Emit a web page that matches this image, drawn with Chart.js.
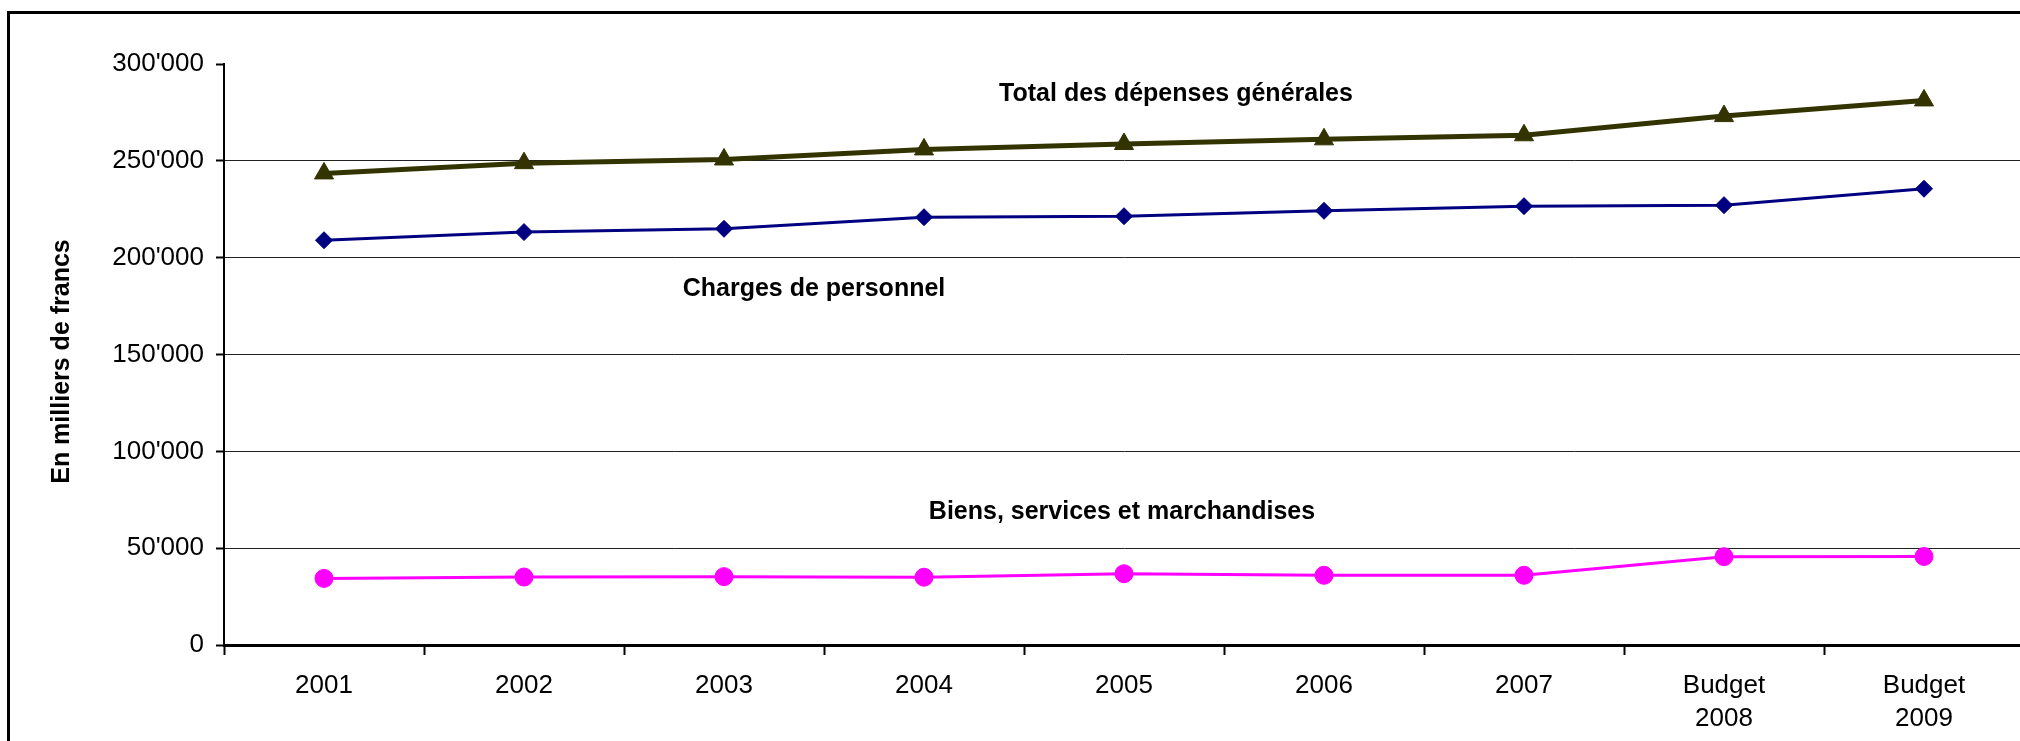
<!DOCTYPE html>
<html><head><meta charset="utf-8">
<script src="https://cdn.jsdelivr.net/npm/chart.js@4.4.1/dist/chart.umd.min.js"></script>
<style>
html,body{margin:0;padding:0;overflow:hidden;background:#fff;width:2020px;height:741px}
#wrap{position:absolute;left:0;top:0;width:2044px;height:741px}
</style></head><body>
<div id="wrap"><canvas id="c" width="2044" height="741"></canvas></div>
<script>
// ---- data ----
const categories = ['2001','2002','2003','2004','2005','2006','2007',['Budget','2008'],['Budget','2009']];
const totalDepenses = [243500, 248800, 250700, 255900, 258700, 261100, 263200, 273100, 281200];
const chargesPersonnel = [209000, 213200, 214900, 220900, 221400, 224200, 226600, 227100, 235600];
const biensServices = [34400, 35100, 35300, 35000, 36800, 36000, 36000, 45600, 45700];
const yTicks = [0, 50000, 100000, 150000, 200000, 250000, 300000];
const seriesNames = ['Total des dépenses générales', 'Charges de personnel', 'Biens, services et marchandises'];
const yTitle = 'En milliers de francs';

// ---- styling / layout ----
const FONT = "'Liberation Sans', Arial, sans-serif";
const notes = [
  {text: seriesNames[0], at: 4.26, value: 280700},
  {text: seriesNames[1], at: 2.45, value: 180400},
  {text: seriesNames[2], at: 3.99, value: 65150}
];
const fmt = v => String(v).replace(/\B(?=(\d{3})+(?!\d))/g, "'");

const framePlugin = {
  id: 'frame',
  beforeDraw(chart){
    const ctx = chart.ctx;
    ctx.save();
    ctx.fillStyle = '#fff';
    ctx.fillRect(0,0,chart.width,chart.height);
    ctx.fillStyle = '#000';
    ctx.fillRect(7, 11, chart.width, 3);
    ctx.fillRect(7, 11, 3, chart.height);
    ctx.restore();
  }
};
const notesPlugin = {
  id: 'notes',
  afterDatasetsDraw(chart){
    const {ctx, chartArea, scales:{x, y}} = chart;
    ctx.save();
    ctx.font = 'bold 25px ' + FONT;
    ctx.fillStyle = '#000';
    ctx.textAlign = 'center';
    ctx.textBaseline = 'alphabetic';
    notes.forEach(n => ctx.fillText(n.text, x.getPixelForValue(n.at), y.getPixelForValue(n.value)));
    // y axis title
    ctx.translate(69, (chartArea.top + chartArea.bottom) / 2 + 7);
    ctx.rotate(-Math.PI / 2);
    ctx.fillText(yTitle, 0, 0);
    ctx.restore();
  }
};

new Chart(document.getElementById('c'), {
  type: 'line',
  data: {
    labels: categories,
    datasets: [
      {label: seriesNames[0], data: totalDepenses, borderColor: '#333300', backgroundColor: '#333300',
       borderWidth: 5, pointStyle: 'triangle', pointRadius: 11, pointBorderWidth: 1, tension: 0},
      {label: seriesNames[1], data: chargesPersonnel, borderColor: '#000080', backgroundColor: '#000080',
       borderWidth: 3, pointStyle: 'rectRot', pointRadius: 8.5, pointBorderWidth: 1, tension: 0},
      {label: seriesNames[2], data: biensServices, borderColor: '#FF00FF', backgroundColor: '#FF00FF',
       borderWidth: 3, pointStyle: 'circle', pointRadius: 9, pointBorderWidth: 1, tension: 0}
    ]
  },
  options: {
    responsive: false,
    animation: false,
    layout: {padding: {left: 0, top: 64, right: 20, bottom: 0}},
    plugins: {legend: {display: false}, tooltip: {enabled: false}},
    scales: {
      x: {
        type: 'category', offset: true,
        grid: {offset: true, drawOnChartArea: false, drawTicks: true, tickLength: 10, tickColor: '#000', tickWidth: 2},
        border: {display: true, color: '#000', width: 3},
        ticks: {color: '#000', font: {family: FONT, size: 26, lineHeight: 1.24}, padding: 15, maxRotation: 0, autoSkip: false},
        afterFit(s){ s.height = 96; }
      },
      y: {
        min: yTicks[0], max: yTicks[yTicks.length-1],
        afterBuildTicks(s){ s.ticks = yTicks.map(v => ({value: v})); },
        ticks: {color: '#000', font: {family: FONT, size: 26}, padding: 12, callback: v => fmt(v)},
        grid: {
          color: c => (c.tick && (c.tick.value === yTicks[0] || c.tick.value === yTicks[yTicks.length-1])) ? 'rgba(0,0,0,0)' : '#222',
          lineWidth: 1, drawTicks: true, tickLength: 8, tickColor: '#000', tickWidth: 2
        },
        border: {display: true, color: '#000', width: 2},
        title: {display: false, text: yTitle},
        afterFit(s){ s.width = 224; }
      }
    }
  },
  plugins: [framePlugin, notesPlugin]
});
</script>
</body></html>
